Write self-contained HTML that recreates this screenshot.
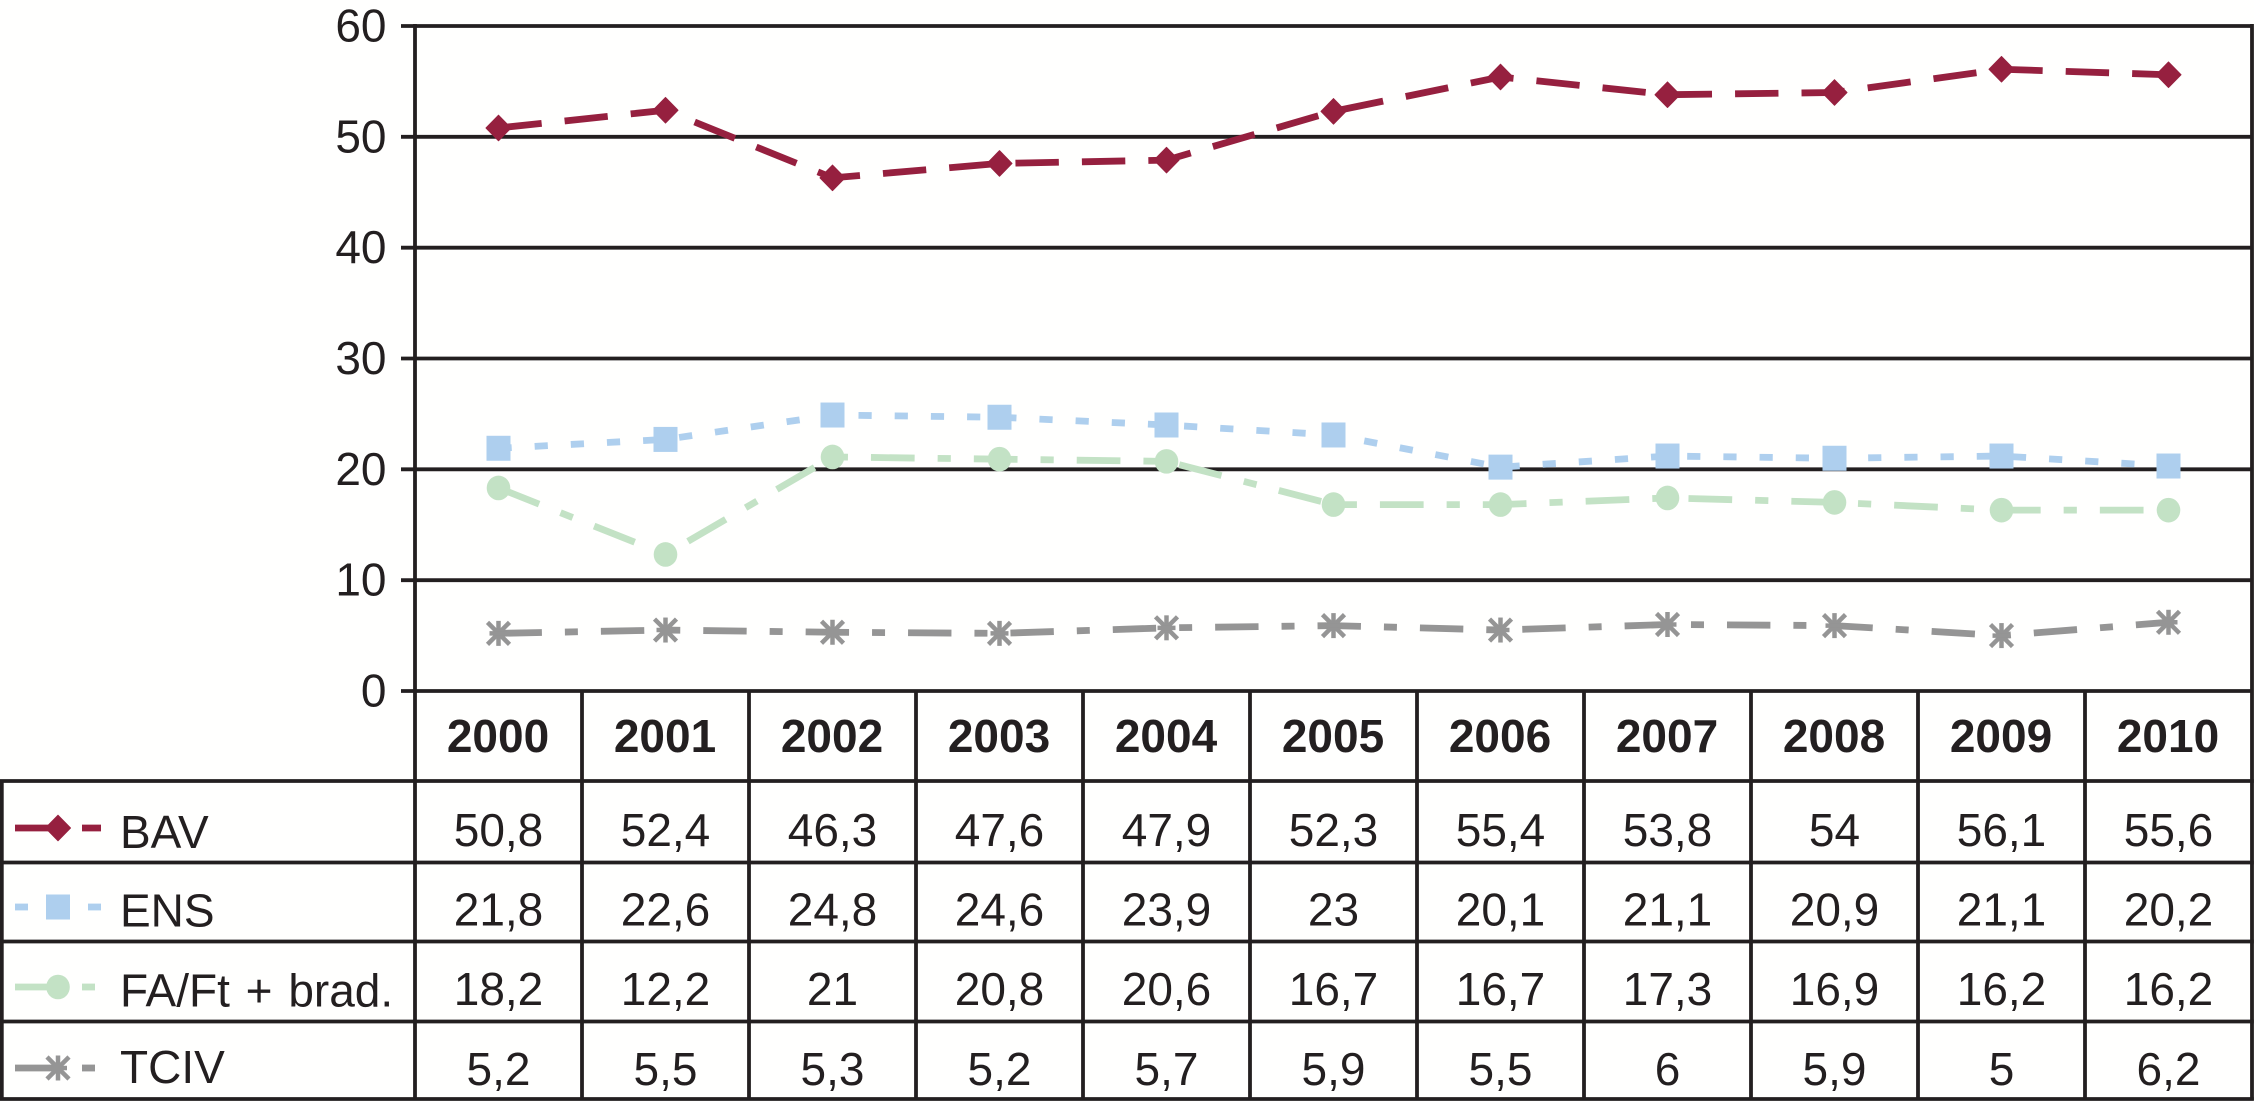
<!DOCTYPE html>
<html lang="pt">
<head>
<meta charset="utf-8">
<title>Chart</title>
<style>
html,body{margin:0;padding:0;background:#fff;width:2254px;height:1101px;overflow:hidden}
svg{display:block}
text{font-family:"Liberation Sans",sans-serif;font-size:46px;fill:#231f20}
</style>
</head>
<body>
<svg id="chart" xmlns="http://www.w3.org/2000/svg" width="2254" height="1101" viewBox="0 0 2254 1101">
<rect x="0" y="0" width="2254" height="1101" fill="#fffffe"/>
<g id="grid"></g>
<g id="ylabels"></g>
<g id="table"></g>
<g id="series"></g>
<g id="legend"></g>
</svg>
<script>
const categories = [2000, 2001, 2002, 2003, 2004, 2005, 2006, 2007, 2008, 2009, 2010];
const yTicks = [0, 10, 20, 30, 40, 50, 60];
const seriesNames = ['BAV', 'ENS', 'FA/Ft + brad.', 'TCIV'];
const bavValues = [50.8, 52.4, 46.3, 47.6, 47.9, 52.3, 55.4, 53.8, 54, 56.1, 55.6];
const ensValues = [21.8, 22.6, 24.8, 24.6, 23.9, 23, 20.1, 21.1, 20.9, 21.1, 20.2];
const faValues = [18.2, 12.2, 21, 20.8, 20.6, 16.7, 16.7, 17.3, 16.9, 16.2, 16.2];
const tcivValues = [5.2, 5.5, 5.3, 5.2, 5.7, 5.9, 5.5, 6, 5.9, 5, 6.2];

const NS = 'http://www.w3.org/2000/svg';
const INK = '#231f20';
const LEFT = 415, RIGHT = 2252, TOP = 26, BASE = 691, COLW = (RIGHT - LEFT) / categories.length;
const ROW_LINES = [781, 862.5, 941.5, 1021.5, 1099];
const ROW_BASE = [846, 925.5, 1005, 1085];
const LABEL_BASE = [848, 926.5, 1006.5, 1083];
const KEY_Y = [828, 907, 987, 1068];
const STYLES = [
  {color: '#96203f', dash: [43.4, 23.06], marker: 'diamond', slug: 'bav', dy: 0},
  {color: '#aecfee', dash: [13.2, 23], marker: 'square', slug: 'ens', dy: -1.1},
  {color: '#c3e2c5', dash: [43.7, 23, 13.2, 23], marker: 'circle', slug: 'fa-ft-brad', dy: -1.3},
  {color: '#959595', dash: [43.4, 23, 13, 23], marker: 'star', slug: 'tciv', dy: 0}
];
const allValues = [bavValues, ensValues, faValues, tcivValues];

function xPos(i) { return LEFT + COLW * (i + 0.5); }
function yPos(v) { return BASE - (v - 0) * (BASE - TOP) / 60; }
function fmt(v) { return String(v).replace('.', ','); }

function mk(tag, attrs, parent) {
  const el = document.createElementNS(NS, tag);
  for (const k in attrs) el.setAttribute(k, attrs[k]);
  parent.appendChild(el);
  return el;
}
function rule(x1, y1, x2, y2, parent, w) {
  return mk('line', {x1: x1, y1: y1, x2: x2, y2: y2, stroke: INK, 'stroke-width': w || 3.8}, parent);
}
function drawMarker(type, cx, cy, color, parent) {
  let el;
  if (type === 'diamond') {
    el = mk('polygon', {points: [[cx - 12.5, cy], [cx, cy - 12.8], [cx + 12.5, cy], [cx, cy + 12.8]].join(' '), fill: color, stroke: color, 'stroke-width': 1, 'stroke-linejoin': 'round'}, parent);
  } else if (type === 'square') {
    el = mk('rect', {x: cx - 12, y: cy - 12.5, width: 24, height: 25, fill: color}, parent);
  } else if (type === 'circle') {
    el = mk('ellipse', {cx: cx, cy: cy, rx: 11.8, ry: 12.3, fill: color}, parent);
  } else {
    el = mk('g', {stroke: color, 'stroke-width': 4.5, fill: 'none'}, parent);
    mk('line', {x1: cx - 11, y1: cy - 11, x2: cx + 11, y2: cy + 11}, el);
    mk('line', {x1: cx - 11, y1: cy + 11, x2: cx + 11, y2: cy - 11}, el);
    mk('line', {x1: cx, y1: cy - 12.5, x2: cx, y2: cy + 12.5}, el);
    mk('line', {x1: cx - 9, y1: cy, x2: cx + 9, y2: cy}, el);
  }
  return el;
}

const gridG = document.getElementById('grid');
const yG = document.getElementById('ylabels');
const tableG = document.getElementById('table');
const seriesG = document.getElementById('series');
const legendG = document.getElementById('legend');

/* y axis, gridlines, tick labels */
yTicks.forEach(function (t) {
  const g = rule(401, yPos(t), RIGHT, yPos(t), gridG);
  
  
  const lab = mk('text', {x: 386.5, y: yPos(t) + 15.5, 'text-anchor': 'end'}, yG);
  
  
  lab.textContent = t;
});
const yAxis = rule(LEFT, TOP - 2, LEFT, ROW_LINES[4] + 1.5, gridG);



/* table frame */
for (let c = 1; c <= categories.length; c++) {
  const x = LEFT + COLW * c;
  const isRight = c === categories.length;
  const v = rule(x, isRight ? TOP - 2 : BASE, x, ROW_LINES[4] + 1.5, tableG);
  
  
}
ROW_LINES.forEach(function (y) {
  const h = rule(0, y, RIGHT + 1.8, y, tableG);
  
  
});
const leftEdge = rule(1.8, ROW_LINES[0], 1.8, ROW_LINES[4] + 1.5, tableG);



/* year header */
categories.forEach(function (yr, i) {
  const t = mk('text', {x: xPos(i) - 0.5, y: 752, 'text-anchor': 'middle', 'font-weight': 'bold'}, tableG);
  
  
  t.textContent = yr;
});

/* table values */
allValues.forEach(function (vals, s) {
  vals.forEach(function (v, i) {
    const t = mk('text', {x: xPos(i), y: ROW_BASE[s], 'text-anchor': 'middle'}, tableG);
    
    
    t.textContent = fmt(v);
  });
});

/* series */
allValues.forEach(function (vals, s) {
  const st = STYLES[s];
  const pts = vals.map(function (v, i) { return xPos(i) + ',' + (yPos(v) + st.dy); }).join(' ');
  const line = mk('polyline', {points: pts, fill: 'none', stroke: st.color, 'stroke-width': 6.8, 'stroke-dasharray': st.dash.join(' '), 'stroke-linejoin': 'miter'}, seriesG);
  
  
  vals.forEach(function (v, i) {
    const m = drawMarker(st.marker, xPos(i), yPos(v) + st.dy, st.color, seriesG);
    
    
  });
});

/* legend keys */
const KEY_SEGMENTS = [
  [[15, 58], [82, 101]],
  [[15, 28], [88, 101]],
  [[15, 58], [82, 95]],
  [[15, 58], [82, 95]]
];
seriesNames.forEach(function (name, s) {
  const st = STYLES[s];
  KEY_SEGMENTS[s].forEach(function (seg) {
    const d = mk('line', {x1: seg[0], y1: KEY_Y[s], x2: seg[1], y2: KEY_Y[s], stroke: st.color, 'stroke-width': 6.8}, legendG);
    
    
  });
  const m = drawMarker(st.marker, 58, KEY_Y[s], st.color, legendG);
  
  
  const t = mk('text', {x: 120, y: LABEL_BASE[s], 'word-spacing': s === 2 ? 3 : 0}, legendG);
  
  
  t.textContent = name;
});
</script>
</body>
</html>
